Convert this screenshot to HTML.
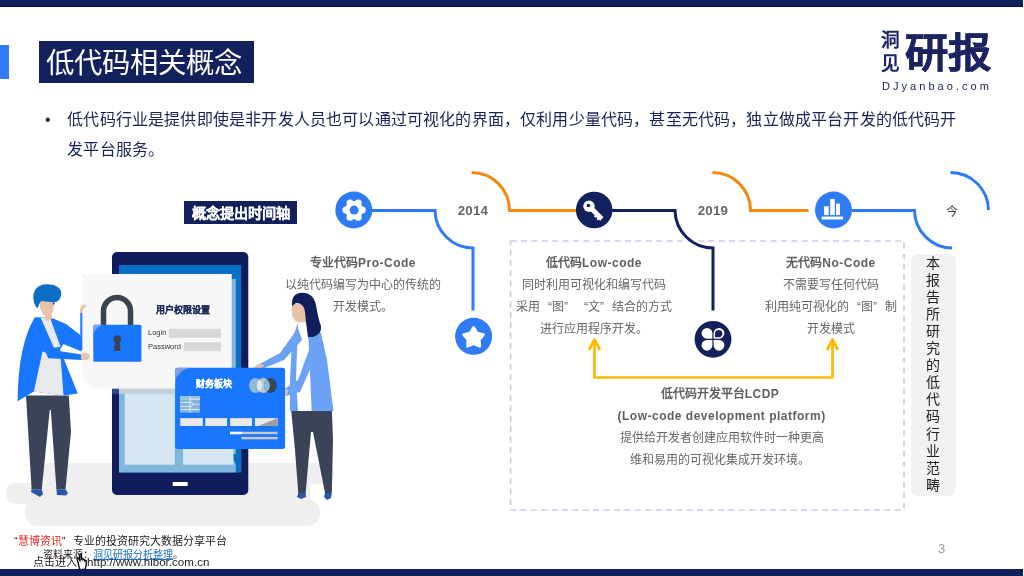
<!DOCTYPE html>
<html lang="zh-CN"><head><meta charset="utf-8">
<style>
*{margin:0;padding:0;box-sizing:border-box}
html,body{width:1024px;height:576px;overflow:hidden;background:#fff}
body{will-change:transform;position:relative;font-family:"Liberation Sans",sans-serif}
.a{position:absolute;white-space:nowrap}
svg{position:absolute;left:0;top:0}
.topbar{left:0;top:0;width:1023px;height:7px;background:#111f5a;border-bottom:1px solid #000f50}
.botbar{left:0;top:569px;width:1023px;height:7px;background:#111f5a}
.accent{left:0;top:45px;width:9px;height:34px;background:#2f7cf6}
.titlebox{left:39px;top:41px;width:215px;height:42px;background:#12205b;color:#fff;font-size:28.4px;line-height:45px;padding-left:6.5px}
.bullet{left:45px;top:104.5px;font-size:16px;color:#1a2356;line-height:30px}
.para{left:67.3px;top:105px;font-size:16px;letter-spacing:0.17px;color:#1a2356;line-height:30px}
.t12{font-size:12px;color:#666;line-height:22px;text-align:center}
.tb{font-weight:bold;color:#5f5f5f}.ls{letter-spacing:0.5px}
.q{display:inline-block;width:12px;text-align:right}.qr{display:inline-block;width:12px;text-align:left}
</style></head><body>
<div class="a topbar"></div>
<div class="a accent"></div>
<div class="a titlebox">低代码相关概念</div>
<div class="a bullet">•</div>
<div class="a para">低代码行业是提供即使是非开发人员也可以通过可视化的界面，仅利用少量代码，甚至无代码，独立做成平台开发的低代码开<br>发平台服务。</div>

<!-- logo -->
<div class="a" style="left:881px;top:30px;font-size:19px;line-height:22.5px;color:#1b2460;font-weight:900;width:22px;white-space:normal;transform:scaleX(0.98);transform-origin:0 0">洞<br>见</div>
<div class="a" style="left:905px;top:31px;font-size:42px;line-height:46px;color:#1b2460;font-weight:900;-webkit-text-stroke:0.6px #1b2460;transform:scale(1.03,0.96);transform-origin:0 0">研报</div>
<div class="a" style="left:882px;top:79px;font-size:11px;line-height:14px;color:#1b2460;letter-spacing:3.05px">DJyanbao.com</div>

<!-- illustration -->
<svg width="1024" height="576" viewBox="0 0 1024 576">
  <g fill="#efefef">
    <rect x="41" y="462.7" width="293" height="21.5" rx="10.7"/>
    <rect x="5.5" y="482.8" width="120" height="21.2" rx="10.6"/>
    <rect x="25" y="499.6" width="295" height="26.2" rx="12"/>
    <rect x="60" y="475" width="250" height="35"/>
  </g>
  <!-- phone -->
  <rect x="112" y="252" width="136.3" height="243" rx="5" fill="#101c5c"/>
  <rect x="119" y="265" width="122.2" height="207.5" fill="#0b6fc3"/>
  <rect x="119" y="279" width="116.8" height="193.5" fill="#80b5dc"/>
  <polygon points="233.4,453.9 241.2,453.9 241.2,472.5 233.4,460" fill="#0870c6"/>
  <rect x="124.8" y="389" width="50" height="75.7" fill="#d6e6f3"/>
  <rect x="183.1" y="389" width="50.3" height="75.7" fill="#d6e6f3"/>
  <rect x="119" y="389" width="114.4" height="4.8" fill="#c4d0da"/>
  <rect x="112" y="389" width="7" height="4.8" fill="#33488a"/>
  <rect x="172.7" y="482" width="15" height="4" fill="#fff"/>
  <!-- white card -->
  <path d="M82.5 274 H231.7 V388.8 H100 A17.5 17.5 0 0 1 82.5 371.3 Z" fill="#f7f7f7"/>
  <!-- lock -->
  <path d="M103.5 326 V311 A13.5 13.5 0 0 1 130.5 311 V326" fill="none" stroke="#3b4251" stroke-width="5.5"/>
  <rect x="93.3" y="324.7" width="48.1" height="37" rx="1.5" fill="#1877fc"/>
  <path d="M93.3 334 V326.5 Q93.3 324.7 95 324.7 H103 Q96 327 93.3 334Z" fill="#6fa6f4"/>
  <circle cx="117.3" cy="339" r="3.8" fill="#3b4251"/>
  <polygon points="115.2,340 119.4,340 120.6,351 114,351" fill="#3b4251"/>
  <!-- bars -->
  <rect x="169" y="328.9" width="52" height="8.9" fill="#d8d8db"/>
  <rect x="183.9" y="342.2" width="37.1" height="8.9" fill="#d8d8db"/>
  <!-- left person -->
  <polygon points="26,395.6 68.8,395.6 71,431.8 65.5,489.3 56.4,489.3 50.8,410 49.7,410.3 41.8,489.3 31.6,489.3" fill="#3a4358"/>
  <polygon points="31.6,489.3 41.8,489.3 43,494 40,497 31,492" fill="#2b55a8"/>
  <polygon points="56.4,489.3 65.5,489.3 68,493 66,495.5 57,495" fill="#2b55a8"/>
  <path d="M17.6 401.2 Q18 345 34.8 317.2 L50.1 317.2 L66 324 L80.6 335.3 L81.6 351.6 L63.5 343.9 L60 349.6 L77.8 393.6 L63.5 395.5 L33.9 391.6Z" fill="#1877fc"/>
  <polygon points="40.5,317.2 50.1,318.1 60.6,346.8 53.9,347.7" fill="#e8e9ea"/>
  <polygon points="42.5,351.6 60.6,357.3 63.5,395.5 33.9,391.6" fill="#e8e9ea"/>
  <polygon points="44.4,348.7 81.6,354.4 81.6,360.1 48.2,358.2" fill="#1877fc"/>
  <rect x="80.3" y="312" width="2" height="38" fill="#1877fc"/>
  <path d="M80 313 Q79.5 307 83 305 L86 304.5 L85.5 307 Q82.5 308 82.5 313Z" fill="#e9c3a9"/>
  <path d="M81 353.5 Q85 352 89 354 Q91 357 88 359.5 Q84 361 81 359Z" fill="#e9c3a9"/>
  <path d="M39.5 300 Q39 312 45 316 V320 Q48 322 52 319 V313 Q54.5 310 53.8 300Z" fill="#e9c3a9"/>
  <path d="M36 307 Q31 298 35 290 Q40 283 50 284.5 Q58 285 61 291 Q62 296 59 300 Q56 303 52 302 Q47 302 42 301 Q39 302 38 308Z" fill="#0b6ec5"/>
  <path d="M52.5 303 L55 302.5 L54 305Z" fill="#1b2f4f"/>
  <!-- right person -->
  <polygon points="291,408.5 331.8,408.5 333,440 331.8,493 325,493 313,432 311,432 305.6,493.5 298.3,493.5 295,450" fill="#3a4358"/>
  <polygon points="298.3,493 305.6,493 306,497 301,499 297,497" fill="#2b55a8"/>
  <polygon points="325,493 331.8,493 331,498 327,500 324,497" fill="#2b55a8"/>
  <polygon points="298,322.5 307,322 321,333 327,360 333.5,411 289.8,411 290,380 292,340" fill="#6ca2f4"/>
  <polygon points="298,322.5 307.5,322 309,350 311.7,411 298,411 296,380" fill="#ffffff"/>
  <polygon points="298,328 302,340 284,360 259,370 256,366 280,353" fill="#6ca2f4"/>
  <polygon points="309,350 312,365 300,392 285,396 283,390 298,380" fill="#6ca2f4"/>
  <path d="M292 304 Q290 320 298 322 H306 V304Z" fill="#e9c3a9"/>
  <path d="M292 306 Q291 293 302 292.8 Q313 292.5 316 305 Q318 318 321 326 Q322 334 313 337 H308 Q306 324 305 312 Q304 303 296 303 Z" fill="#101e5c"/>
  <path d="M254 369 Q255 365 259 364 L264 365 L262 369Z" fill="#e9c3a9"/>
  <path d="M281 391 Q284 388 288 390 L287 395 Q283 397 280 394Z" fill="#e9c3a9"/>
  <!-- credit card -->
  <rect x="175.1" y="367.8" width="110" height="81.1" rx="2.5" fill="#1877fc"/>
  <path d="M175.1 382 V370.3 Q175.1 367.8 177.6 367.8 H190 Q178 370 175.1 382Z" fill="#7f9fe0"/>
  <ellipse cx="255.5" cy="385.5" rx="6.5" ry="7.4" fill="#8ebad8"/><ellipse cx="263.4" cy="385.5" rx="6.5" ry="7.4" fill="#c4c5c8"/><ellipse cx="270.4" cy="385.5" rx="6.5" ry="7.4" fill="#3a4558"/><path d="M259.45 379.62 A6.50 7.40 0 0 1 259.45 391.38 A6.50 7.40 0 0 1 259.45 379.62 Z" fill="#dce9f3"/><path d="M266.90 379.26 A6.50 7.40 0 0 1 266.90 391.74 A6.50 7.40 0 0 1 266.90 379.26 Z" fill="#87b8de"/>
  <rect x="180" y="396" width="19.8" height="16.6" fill="#86b5da"/>
  <rect x="180" y="396" width="19.8" height="4" fill="#9cc3e2"/>
  <g stroke="#d8e8f4" stroke-width="1" fill="none"><path d="M190 399.3 H199.8"/><path d="M180 402.4 H190.8 A2 2 0 0 1 190.8 406.4 H180"/><path d="M192.8 404.3 H199.8"/><path d="M180 409.5 H199.8"/><path d="M190 396 V412.6"/></g>
  <g fill="#e9e9e9"><rect x="180.3" y="418.1" width="22.5" height="7.9"/><rect x="205.3" y="418.1" width="21.8" height="7.9"/><rect x="230.1" y="418.1" width="22" height="7.9"/><rect x="254.9" y="418.1" width="22.9" height="7.9"/></g>
  <polygon points="277.8,418.1 277.8,426 258,426" fill="#a0a0a0"/>
  <rect x="230" y="431.8" width="47.5" height="2.4" fill="#c8c8c8"/>
  <rect x="230" y="431.8" width="12" height="2.4" fill="#f4f4f4"/>
  <rect x="241.4" y="436.9" width="36.1" height="2.4" fill="#c8c8c8"/>
</svg>
<div class="a" style="left:156px;top:303px;font-size:9px;font-weight:bold;color:#1c2a5a;-webkit-text-stroke:0.2px #1c2a5a;line-height:14px">用户权限设置</div>
<div class="a" style="left:148px;top:328px;font-size:7.5px;color:#333;line-height:10px">Login</div>
<div class="a" style="left:148px;top:341.5px;font-size:7.5px;color:#333;line-height:10px">Password</div>
<div class="a" style="left:196px;top:377px;font-size:9px;font-weight:bold;color:#fff;-webkit-text-stroke:0.25px #fff;line-height:14px">财务板块</div>

<!-- timeline label -->
<div class="a" style="left:184px;top:201px;width:113px;height:23px;background:#12205b;color:#fff;font-size:14.2px;font-weight:bold;line-height:24.4px;text-align:center;-webkit-text-stroke:0.1px #fff">概念提出时间轴</div>

<svg width="1024" height="576" viewBox="0 0 1024 576">
  <rect x="510.6" y="241" width="393.4" height="269" fill="none" stroke="#c7cde2" stroke-width="1.6" stroke-dasharray="6 4.4"/>
  <path d="M372 210.5 H435 A38 38 0 0 0 473 248 V310.4" fill="none" stroke="#2f7bf5" stroke-width="3"/>
  <path d="M471.5 172.5 A38 38 0 0 1 509.5 210.5 H576" fill="none" stroke="#f08a12" stroke-width="3"/>
  <path d="M612 210.5 H675 A38 38 0 0 0 713 248 V310.4" fill="none" stroke="#12205b" stroke-width="3"/>
  <path d="M712.5 172.5 A38 38 0 0 1 750.5 210.5 H808.5" fill="none" stroke="#f08a12" stroke-width="3"/>
  <path d="M852 210.5 H914.5 A38 38 0 0 0 952 248" fill="none" stroke="#2f7bf5" stroke-width="3"/>
  <path d="M950.5 172.5 A38 38 0 0 1 988.5 210" fill="none" stroke="#2f7bf5" stroke-width="3"/>
  <path d="M594.5 342 V377.5 H832.5 V342" fill="none" stroke="#ffba00" stroke-width="2.7" stroke-linejoin="round"/>
  <path d="M589.5 349 L594.5 339.5 L599.5 349" fill="none" stroke="#ffba00" stroke-width="2.7" stroke-linejoin="round" stroke-linecap="round"/>
  <path d="M827.5 349 L832.5 339.5 L837.5 349" fill="none" stroke="#ffba00" stroke-width="2.7" stroke-linejoin="round" stroke-linecap="round"/>

  <circle cx="353.8" cy="210" r="18.5" fill="#2f7bf5"/>
  <g fill="#fff"><circle cx="354.10" cy="210.10" r="9.1"/><circle cx="362.30" cy="210.10" r="3.5"/><circle cx="358.20" cy="217.20" r="3.5"/><circle cx="350.00" cy="217.20" r="3.5"/><circle cx="345.90" cy="210.10" r="3.5"/><circle cx="350.00" cy="203.00" r="3.5"/><circle cx="358.20" cy="203.00" r="3.5"/></g>
  <circle cx="354.1" cy="210.1" r="4.5" fill="#2f7bf5"/>

  <circle cx="594.2" cy="210" r="18.3" fill="#12205b"/>
  <circle cx="589.0" cy="206.2" r="5.7" fill="#fff"/>
  <circle cx="588.4" cy="205.5" r="1.8" fill="#12205b"/>
  <path d="M592.82 206.62 L603.57 217.37 L600.17 220.77 L598.90 219.49 L597.98 220.41 L596.42 218.86 L597.34 217.94 L596.35 216.95 L595.43 217.87 L593.88 216.31 L594.80 215.39 L589.42 210.02Z" fill="#fff"/>

  <circle cx="833.5" cy="210" r="18.5" fill="#2f7bf5"/>
  <rect x="824.1" y="206.3" width="4.6" height="8.8" fill="#fff"/>
  <rect x="830.2" y="199.1" width="4.6" height="16" fill="#fff"/>
  <rect x="836" y="203.6" width="4" height="11.5" fill="#fff"/>
  <rect x="821.6" y="216.6" width="21.4" height="2.9" fill="#fff"/>

  <circle cx="473.6" cy="336.3" r="18.5" fill="#2f7bf5"/>
  <path d="M473.60 327.50 L477.07 333.13 L483.49 334.69 L479.21 339.72 L479.71 346.31 L473.60 343.80 L467.49 346.31 L467.99 339.72 L463.71 334.69 L470.13 333.13Z" fill="#fff" stroke="#fff" stroke-width="2.8" stroke-linejoin="round"/>

  <circle cx="713" cy="339.3" r="18.4" fill="#12205b"/>
  <g fill="#fff">
    <path d="M712.4 338.7 H707 A5.4 5.4 0 1 1 712.4 333.3Z"/>
    <path d="M713.6 338.7 V333.3 A5.4 5.4 0 1 1 719 338.7Z"/>
    <path d="M712.4 339.9 V345.3 A5.4 5.4 0 1 1 707 339.9Z"/>
    <path d="M713.6 339.9 H719 A5.4 5.4 0 1 1 713.6 345.3Z"/>
  </g>
  <path d="M715 337.3 V333.6 A3.7 3.7 0 1 1 718.7 337.3Z" fill="#12205b"/>
</svg>

<div class="a" style="left:457.7px;top:202.6px;font-size:13.3px;letter-spacing:0.25px;font-weight:bold;color:#666">2014</div>
<div class="a" style="left:697.7px;top:202.6px;font-size:13.3px;letter-spacing:0.25px;font-weight:bold;color:#666">2019</div>
<div class="a" style="left:946px;top:202px;font-size:12px;color:#444">今</div>

<div class="a t12" style="left:263px;top:252px;width:200px"><span class="tb">专业代码<span class="ls">Pro-Code</span></span><br>以纯代码编写为中心的传统的<br>开发模式。</div>
<div class="a t12" style="left:494px;top:252px;width:200px"><span class="tb">低代码<span class="ls">Low-code</span></span><br>同时利用可视化和编写代码<br>采用<span class="q">“</span>图<span class="qr">”</span><span class="q">“</span>文<span class="qr">”</span>结合的方式<br>进行应用程序开发。</div>
<div class="a t12" style="left:731px;top:252px;width:200px"><span class="tb">无代码<span class="ls">No-Code</span></span><br>不需要写任何代码<br>利用纯可视化的<span class="q">“</span>图<span class="qr">”</span>制<br>开发模式</div>
<div class="a t12" style="left:620px;top:383px;width:200px"><span class="tb">低代码开发平台<span class="ls">LCDP</span><br><span class="ls" style="position:relative;left:-2.5px">(Low-code development platform)</span></span><br>提供给开发者创建应用软件时一种更高<br>维和易用的可视化集成开发环境。</div>

<div class="a" style="left:911.4px;top:254px;width:44.7px;height:242.3px;background:#f2f2f2;border-radius:7px"></div>
<div class="a" style="left:926px;top:254.6px;width:16px;font-size:14px;line-height:17.1px;color:#222;white-space:normal">本报告所研究的低代码行业范畴</div>

<div class="a" style="left:938px;top:541px;font-size:13px;color:#999">3</div>

<!-- footer -->
<div class="a" style="left:14px;top:534px;font-size:11px;line-height:14px;color:#222">“<span style="color:#e02a2a">慧博资讯</span><span class="qr" style="width:11px">”</span>专业的投资研究大数据分享平台</div>
<div class="a" style="left:43px;top:549px;font-size:10px;line-height:12px;color:#222">资料来源：<span style="color:#1f6fc5;text-decoration:underline">洞见研报分析整理</span>。</div>
<div class="a" style="left:33px;top:555px;font-size:11px;line-height:14px;color:#222">点击进入</div>
<div class="a" style="left:87px;top:554.5px;font-size:11.6px;line-height:14px;color:#222">http://www.hibor.com.cn</div>
<svg width="1024" height="576" viewBox="0 0 1024 576"><path d="M78.5 564 L77 559 Q77 557.5 78.3 558 L79.8 560.5 V554.8 Q80.6 553.5 81.4 554.8 V559 Q82.2 558 83 559 V559.8 Q83.8 559 84.6 560 V560.8 Q85.4 560 86.2 561 V565 L85 569.5 H79.5Z" fill="#fff" stroke="#000" stroke-width="1.3"/></svg>
<div class="a botbar"></div>
</body></html>
